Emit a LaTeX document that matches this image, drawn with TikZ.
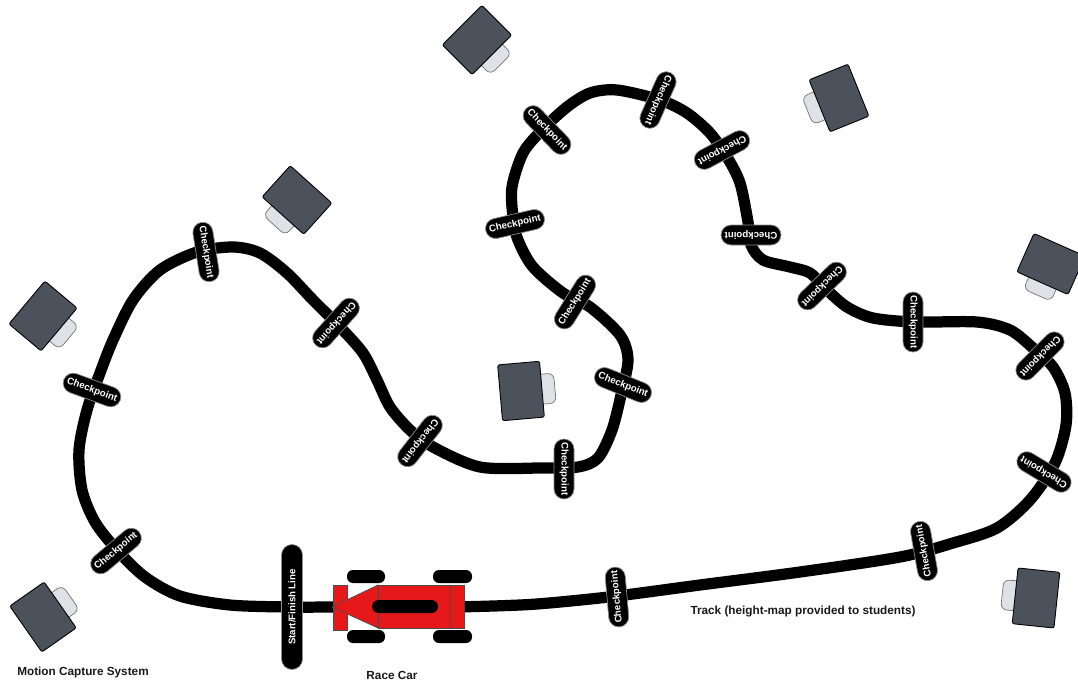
\documentclass[tikz,border=0pt]{standalone}
\usepackage{fontspec}
\setmainfont{Liberation Sans}
\usepackage{xcolor}
\usepackage{tikz}
\usetikzlibrary{positioning}
\definecolor{camgray}{RGB}{75,82,92}
\definecolor{tabgray}{RGB}{222,225,230}
\definecolor{carred}{RGB}{230,24,26}
\definecolor{labelink}{RGB}{25,25,25}
\tikzset{
  trackline/.style={line width=6.4pt, black, line join=round},
  chk/.style={rectangle, rounded corners=2mm, draw=black!45, line width=0.4pt, fill=black, text=white, minimum width=1.2cm, minimum height=0.4cm, inner sep=0pt, font=\fontsize{5.5}{7}\selectfont\bfseries},
  startline/.style={chk, minimum width=2.5cm, minimum height=0.42cm, rounded corners=2.1mm},
  redpart/.style={fill=carred, draw=black!70, line width=0.4pt},
  wheel/.style={fill=black, rounded corners=0.12cm},
  lbl/.style={font=\fontsize{6.7}{8}\selectfont\bfseries, text=labelink},
  cambody/.style={fill=camgray, draw=black, line width=0.5pt, rounded corners=0.04cm},
  camtab/.style={fill=tabgray, draw=black!55, line width=0.4pt, rounded corners=0.12cm},
  mocap/.pic={
    \draw[camtab] (-34,-15) rectangle (-15,15);
    \draw[cambody] (-21,-28) rectangle (21,28);
  }
}

\begin{document}
\begin{tikzpicture}[x=0.02cm, y=-0.02cm]
  \useasboundingbox (0,0) rectangle (1078,683);

  % motion capture cameras round the room
  \pic[rotate=135] at (477,40) {mocap};
  \pic[rotate=48] at (297,200) {mocap};
  \pic[rotate=140] at (43,316) {mocap};
  \pic[rotate=-145] at (43,617) {mocap};
  \pic[rotate=22] at (839,98) {mocap};
  \pic[rotate=66] at (1051,264) {mocap};
  \pic[rotate=-6] at (1036,598) {mocap};
  \pic[rotate=185] at (521,391) {mocap};

  % the track
  \draw[trackline] plot[smooth cycle, tension=0.5] coordinates {
    (290,607) (350,607) (450,607) (520,605) (560,602) (617,596) (700,585)
    (800,572) (900,557) (953,543) (997,528) (1030,500) (1055,463) (1066,425)
    (1065,393) (1053,367) (1033,348) (1010,330) (977,322) (915,322) (873,318)
    (847,307) (827,290) (810,273) (790,267) (763,260) (751,245) (748,222)
    (740,183) (727,157) (710,133) (687,113) (660,100) (617,90) (590,93)
    (567,107) (542,130) (523,153) (512,187) (513,217) (518,240) (533,267)
    (563,293) (590,307) (620,335) (628,360) (621,395) (612,430) (598,458)
    (578,467) (540,468) (480,467) (433,447) (410,430) (390,407) (377,380)
    (363,353) (340,327) (313,300) (287,273) (260,253) (233,247) (197,252)
    (160,270) (133,300) (113,340) (100,373) (87,410) (79,450) (82,490)
    (95,522) (117,550) (145,577) (180,596) (230,605)};

  % checkpoints along the track
  \node[chk, rotate=40] (cp1) at (116,551) {Checkpoint};
  \node[chk, rotate=-20] (cp2) at (92,390) {Checkpoint};
  \node[chk, rotate=-81] (cp3) at (206,252) {Checkpoint};
  \node[chk, rotate=-132] (cp4) at (336,323) {Checkpoint};
  \node[chk, rotate=-128] (cp5) at (420,441) {Checkpoint};
  \node[chk, rotate=-90] (cp6) at (564,469) {Checkpoint};
  \node[chk, rotate=-22] (cp7) at (623,385) {Checkpoint};
  \node[chk, rotate=58] (cp8) at (575,302) {Checkpoint};
  \node[chk, rotate=13] (cp9) at (515,224) {Checkpoint};
  \node[chk, rotate=-46] (cp10) at (547,130) {Checkpoint};
  \node[chk, rotate=-114] (cp11) at (658,100) {Checkpoint};
  \node[chk, rotate=-152] (cp12) at (722,150) {Checkpoint};
  \node[chk, rotate=180] (cp13) at (751,235) {Checkpoint};
  \node[chk, rotate=-136] (cp14) at (822,286) {Checkpoint};
  \node[chk, rotate=-90] (cp15) at (913,322) {Checkpoint};
  \node[chk, rotate=-135] (cp16) at (1040,356) {Checkpoint};
  \node[chk, rotate=149] (cp17) at (1044,472) {Checkpoint};
  \node[chk, rotate=100] (cp18) at (924,551) {Checkpoint};
  \node[chk, rotate=95] (cp19) at (617,597) {Checkpoint};

  \node[startline, rotate=90] (start) at (292,607) {Start/Finish Line};

  % race car
  \fill[wheel] (347,570) rectangle (385,583);
  \fill[wheel] (347,630) rectangle (385,643);
  \fill[wheel] (433,570) rectangle (472,583);
  \fill[wheel] (433,630) rectangle (472,643);
  \draw[redpart] (333,585) rectangle (347,630);
  \draw[redpart] (378,585) rectangle (452,628);
  \draw[redpart] (450,585) rectangle (464,628);
  \draw[redpart] (378,585) -- (378,628) -- (332,607) -- cycle;
  \fill[wheel, rounded corners=0.13cm] (372,600) rectangle (438,613);

  % labels
  \node[lbl] (camlbl) at (83,672) {Motion Capture System};
  \node[lbl] (carlbl) at (392,675) {Race Car};
  \node[lbl] (tracklbl) at (803,611) {Track (height-map provided to students)};
\end{tikzpicture}
\end{document}
